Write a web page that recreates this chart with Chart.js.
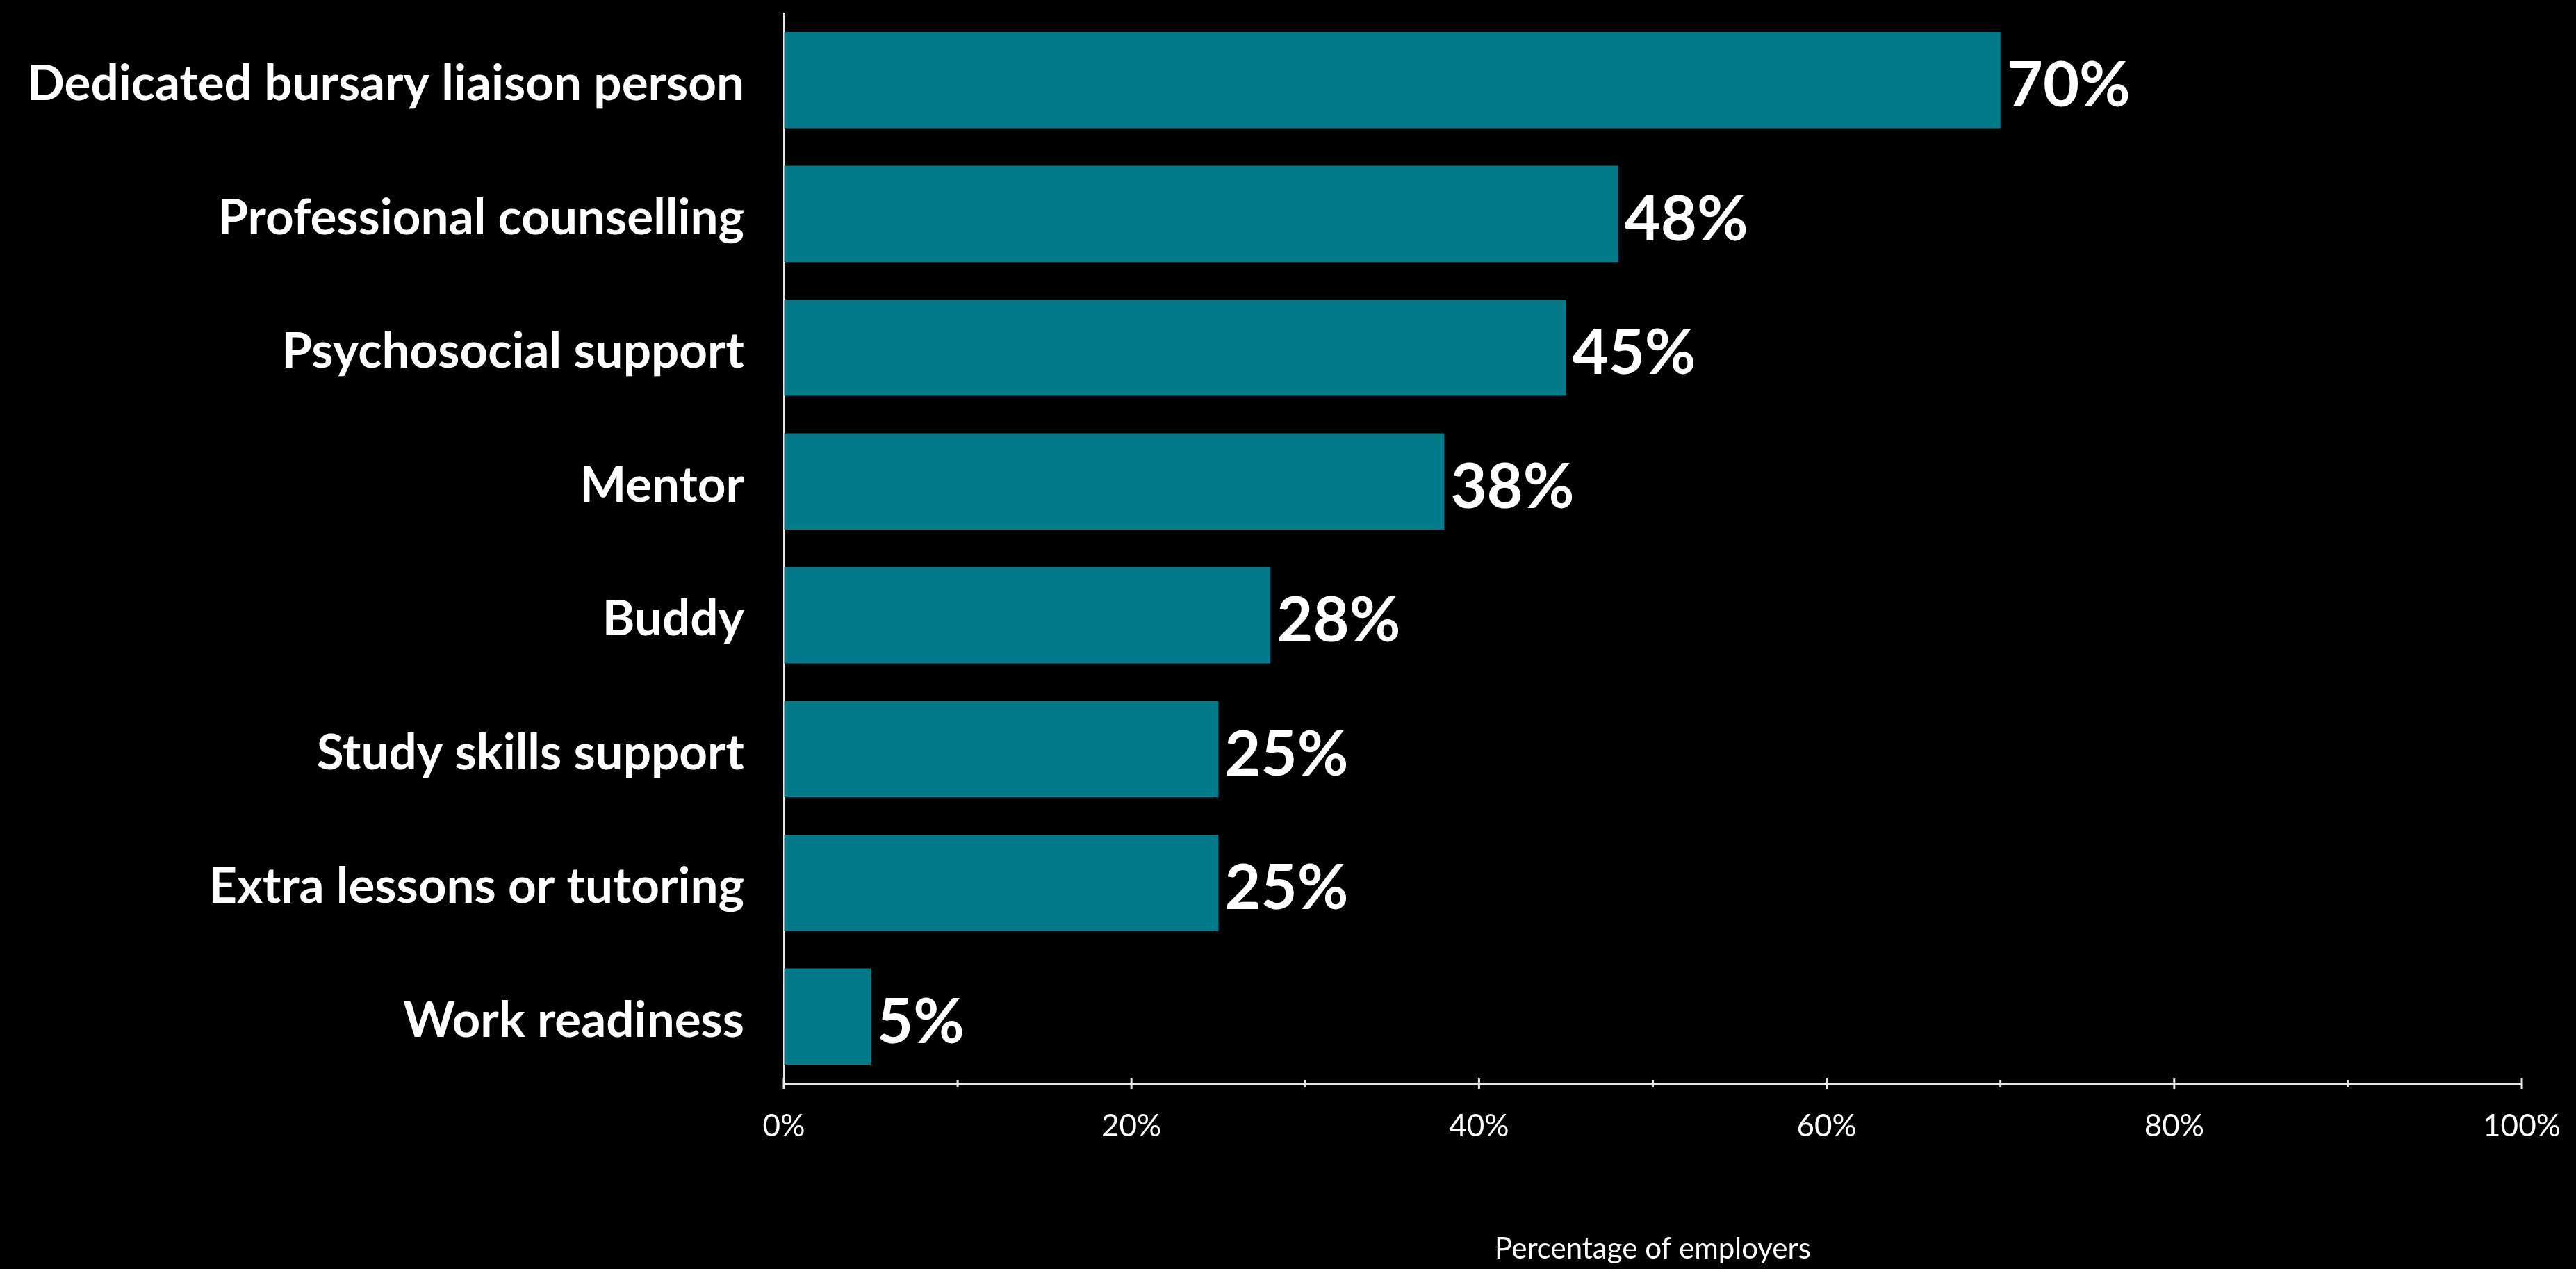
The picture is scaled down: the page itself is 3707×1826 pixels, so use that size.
<!DOCTYPE html>
<html>
<head>
<meta charset="utf-8">
<title>Support offered to bursary holders</title>
<script src="https://cdn.jsdelivr.net/npm/chart.js@4"></script>
<style>
  html, body { margin: 0; padding: 0; background: #000; }
  #wrap { width: 3707px; height: 1826px; }
</style>
</head>
<body>
<div id="wrap"><canvas id="supportChart"></canvas></div>
<script>
const categories = [
  "Dedicated bursary liaison person",
  "Professional counselling",
  "Psychosocial support",
  "Mentor",
  "Buddy",
  "Study skills support",
  "Extra lessons or tutoring",
  "Work readiness",
];
const employerShare = [70, 48, 45, 38, 28, 25, 25, 5];
const axisTitle = "Percentage of employers";

const FONT = "Lato, 'Open Sans', sans-serif";
const AXIS_COLOR = "#e6e6e6";

// black canvas background
const blackBackground = {
  id: "blackBackground",
  beforeDraw(chart) {
    const { ctx, width, height } = chart;
    ctx.save();
    ctx.fillStyle = "#000";
    ctx.fillRect(0, 0, width, height);
    ctx.restore();
  },
};

// tick marks crossing the x axis, longer at labelled ticks
const crossTicks = {
  id: "crossTicks",
  afterDraw(chart) {
    const { ctx } = chart;
    const x = chart.scales.x;
    const y0 = x.top;
    ctx.save();
    ctx.strokeStyle = AXIS_COLOR;
    ctx.lineWidth = 3;
    x.ticks.forEach((t) => {
      const px = x.getPixelForValue(t.value);
      const len = t.value % 20 === 0 ? 8 : 5;
      ctx.beginPath();
      ctx.moveTo(px, y0 - len);
      ctx.lineTo(px, y0 + len);
      ctx.stroke();
    });
    ctx.restore();
  },
};

// value labels at the end of each bar
const valueLabels = {
  id: "valueLabels",
  afterDatasetsDraw(chart) {
    const { ctx } = chart;
    const meta = chart.getDatasetMeta(0);
    ctx.save();
    ctx.fillStyle = "#fff";
    ctx.font = `bold 90px ${FONT}`;
    ctx.textAlign = "left";
    ctx.textBaseline = "alphabetic";
    meta.data.forEach((bar, i) => {
      ctx.fillText(`${employerShare[i]}%`, bar.x + 9, bar.y + 38);
    });
    ctx.restore();
  },
};

new Chart(document.getElementById("supportChart"), {
  type: "bar",
  data: {
    labels: categories,
    datasets: [
      {
        data: employerShare,
        backgroundColor: "#017B8A",
        borderWidth: 0,
        barPercentage: 0.72,
        categoryPercentage: 1,
      },
    ],
  },
  options: {
    indexAxis: "y",
    responsive: true,
    maintainAspectRatio: false,
    animation: false,
    events: [],
    layout: { padding: { top: 19, right: 78, left: 0, bottom: 0 } },
    plugins: {
      legend: { display: false },
      tooltip: { enabled: false },
    },
    scales: {
      x: {
        min: 0,
        max: 100,
        ticks: {
          stepSize: 10,
          color: "#fff",
          font: { family: FONT, size: 44 },
          padding: 27,
          maxRotation: 0,
          autoSkip: false,
          callback: (v) => (v % 20 === 0 ? v + "%" : ""),
        },
        grid: { display: true, drawOnChartArea: false, drawTicks: true, tickLength: 8, color: "transparent" },
        border: { display: true, color: AXIS_COLOR, width: 3 },
        title: {
          display: true,
          text: axisTitle,
          color: "#fff",
          font: { family: FONT, size: 42 },
          padding: { top: 0, bottom: 3 },
        },
        afterFit(scale) {
          scale.height = 267;
          scale.paddingLeft = 0;
          scale.paddingRight = 0;
        },
      },
      y: {
        ticks: {
          color: "#fff",
          font: { family: FONT, size: 71, weight: "bold" },
          padding: 57,
          labelOffset: 6,
        },
        grid: { display: false, drawTicks: false },
        border: { display: true, color: AXIS_COLOR, width: 3 },
        afterFit(scale) {
          scale.width = 1128;
          scale.paddingTop = 0;
          scale.paddingBottom = 0;
        },
      },
    },
  },
  plugins: [blackBackground, crossTicks, valueLabels],
});
</script>
</body>
</html>
